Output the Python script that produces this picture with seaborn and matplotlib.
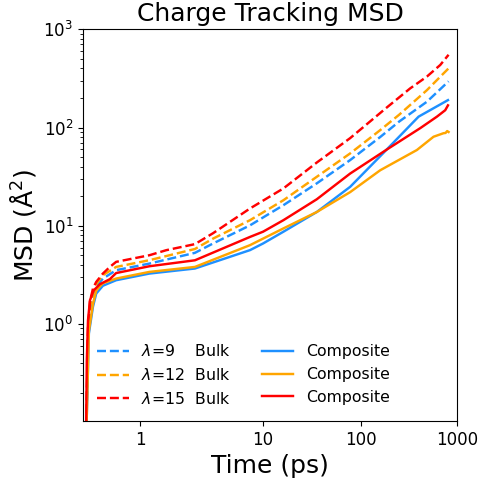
import numpy as np
import matplotlib
matplotlib.use("Agg")
import matplotlib.pyplot as plt
import seaborn as sns

# ---- data (time in ps, MSD in A^2) ----
t_bulk9 = [0.635, 0.642, 0.649, 0.660, 0.673, 0.703, 0.779, 1.12, 2.35, 3.36, 7.45, 16.0, 35.0, 77.4, 158.6, 250, 486, 817]
msd_bulk9 = [0.05, 0.7, 1.4, 2.0, 2.4, 2.9, 3.53, 4.12, 5.3, 6.6, 10.1, 16.2, 27, 46.6, 80, 115, 183, 295]

t_bulk12 = [0.635, 0.642, 0.649, 0.660, 0.673, 0.703, 0.779, 1.12, 2.35, 3.36, 7.45, 16.0, 35.0, 77.4, 158.6, 250, 486, 817]
msd_bulk12 = [0.05, 0.75, 1.5, 2.1, 2.55, 3.14, 3.81, 4.46, 5.8, 7.4, 11.4, 18.2, 31.5, 54.5, 94, 135, 240, 400]

t_bulk15 = [0.635, 0.642, 0.649, 0.660, 0.673, 0.703, 0.740, 0.779, 0.918, 1.12, 1.43, 2.35, 3.36, 7.45, 16.0, 35.0, 77.4, 186, 325, 486, 669, 817]
msd_bulk15 = [0.05, 0.9, 1.7, 2.3, 2.68, 3.26, 3.81, 4.29, 4.64, 5.01, 5.64, 6.5, 8.4, 15.0, 24, 44, 78, 160, 250, 330, 433, 550]

t_comp9 = [0.635, 0.645, 0.660, 0.673, 0.703, 0.779, 1.12, 2.35, 7.45, 10.0, 16.0, 35.0, 77.4, 171, 398, 569, 805]
msd_comp9 = [0.05, 0.8, 1.5, 2.04, 2.45, 2.79, 3.26, 3.67, 5.65, 6.6, 8.7, 13.8, 24.9, 55, 129, 157, 190]

t_comp12 = [0.635, 0.645, 0.660, 0.673, 0.703, 0.779, 1.12, 2.35, 7.45, 16.0, 35.0, 77.4, 158.6, 382, 569, 724, 760, 790, 817]
msd_comp12 = [0.05, 0.85, 1.6, 2.2, 2.6, 2.9, 3.39, 3.81, 6.35, 9.4, 13.8, 22, 36.7, 59, 80.5, 87.5, 88, 92, 90]

t_comp15 = [0.635, 0.638, 0.642, 0.649, 0.663, 0.689, 0.740, 0.779, 1.12, 2.35, 7.45, 10.0, 16.0, 35.0, 77.4, 186, 414, 618, 754, 805]
msd_comp15 = [0.05, 0.42, 1.09, 1.75, 2.2, 2.54, 2.86, 3.3, 3.87, 4.45, 7.7, 8.7, 11.4, 18.6, 34, 59.7, 98.5, 129, 150, 168]

lambdas = [9, 12, 15]
colors = ["#1E90FF", "orange", "red"]

bulk = [(t_bulk9, msd_bulk9), (t_bulk12, msd_bulk12), (t_bulk15, msd_bulk15)]
comp = [(t_comp9, msd_comp9), (t_comp12, msd_comp12), (t_comp15, msd_comp15)]
bulk_labels = ["$\\lambda$=9    Bulk", "$\\lambda$=12  Bulk", "$\\lambda$=15  Bulk"]

fig = plt.figure(figsize=(4.81, 4.82), dpi=100)
ax = fig.add_axes([0.1726, 0.1266, 0.7775, 0.8127])

for (t, m), c, lab in zip(bulk, colors, bulk_labels):
    sns.lineplot(x=t, y=m, ax=ax, color=c, linestyle="--", linewidth=1.75, label=lab, sort=False)
for (t, m), c in zip(comp, colors):
    sns.lineplot(x=t, y=m, ax=ax, color=c, linewidth=1.75, label="Composite", sort=False)


def fwd(t):
    return np.log10(np.maximum(np.asarray(t, dtype=float) - 0.5, 1e-9))


def inv(u):
    return 10 ** np.asarray(u, dtype=float) + 0.5


ax.set_xscale("function", functions=(fwd, inv))
ax.set_yscale("log")
ax.set_xlim(0.626, 1000)
ax.set_ylim(0.103, 1000)
ax.set_xticks([1, 10, 100, 1000])
ax.set_xticklabels(["1", "10", "100", "1000"])
ax.xaxis.set_minor_locator(matplotlib.ticker.NullLocator())
ax.tick_params(labelsize=12)

ax.set_title("Charge Tracking MSD", fontsize=18)
ax.set_xlabel("Time (ps)", fontsize=18)
ax.set_ylabel("MSD (Å$^2$)", fontsize=18)
ax.legend(ncol=2, loc="lower left", frameon=False, fontsize=11.3)

fig.savefig("out.png", dpi=100)
